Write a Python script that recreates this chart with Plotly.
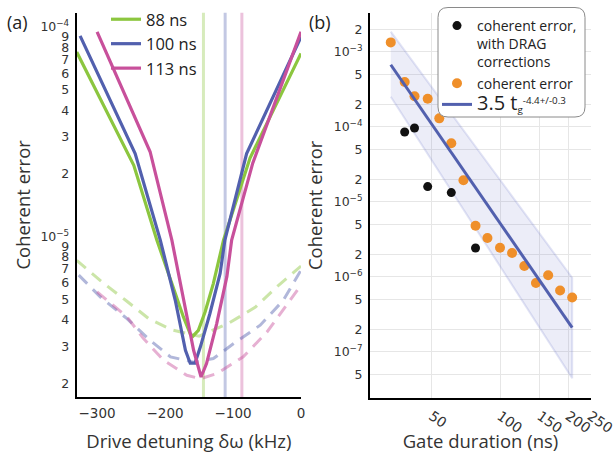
import plotly.graph_objects as go

W, H = 614, 453

# ---------------- Panel (a): coherent error vs drive detuning ----------------
gate_labels = ["88 ns", "100 ns", "113 ns"]

det_88 = [-330, -246, -212, -190, -173, -163, -159, -151, -141, -129, -114, -75, 0]
err_88 = [7.59e-5, 2.19e-5, 9.62e-6, 5.97e-6, 4.14e-6, 3.44e-6, 3.35e-6, 3.57e-6,
          4.38e-6, 5.97e-6, 9.62e-6, 2.37e-5, 7.48e-5]

det_100 = [-325, -244, -207, -185, -170, -163, -156, -148, -134, -119, -112, -80, 0]
err_100 = [9.06e-5, 2.49e-5, 9.62e-6, 4.97e-6, 2.87e-6, 2.49e-6, 2.49e-6, 2.98e-6,
           4.30e-6, 6.67e-6, 9.62e-6, 2.49e-5, 8.97e-5]

det_113 = [-300, -222, -190, -173, -158, -147, -139, -124, -109, -102, -71, 0]
err_113 = [9.48e-5, 2.54e-5, 9.62e-6, 5.15e-6, 2.87e-6, 2.14e-6, 2.48e-6, 3.85e-6,
           6.46e-6, 9.62e-6, 2.24e-5, 9.48e-5]

dash_det_88 = [-330, -293, -258, -224, -190, -150, -107, -67, -33, 0]
dash_err_88 = [7.7e-6, 6.08e-6, 4.97e-6, 4.06e-6, 3.59e-6, 3.35e-6, 3.85e-6, 4.61e-6,
               5.86e-6, 7.24e-6]

dash_det_100 = [-327, -295, -256, -222, -192, -158, -129, -99, -60, -26, 0]
dash_err_100 = [6.55e-6, 5.15e-6, 4.06e-6, 3.20e-6, 2.67e-6, 2.52e-6, 2.62e-6, 3.09e-6,
                3.78e-6, 4.97e-6, 6.92e-6]

dash_det_113 = [-300, -256, -232, -202, -168, -148, -124, -85, -50, 0]
dash_err_113 = [5.45e-6, 4.14e-6, 3.27e-6, 2.57e-6, 2.18e-6, 2.10e-6, 2.22e-6, 2.67e-6,
                3.51e-6, 5.86e-6]

vline_det = [-143.5, -111.6, -87.0]

POW = "10<sup>−{}</sup>"
ya_tickvals = [2e-6, 3e-6, 4e-6, 5e-6, 6e-6, 7e-6, 8e-6, 9e-6, 1e-5,
               2e-5, 3e-5, 4e-5, 5e-5, 6e-5, 7e-5, 8e-5, 9e-5, 1e-4]
ya_ticktext = ["2", "3", "4", "5", "6", "7", "8", "9", POW.format(5),
               "2", "3", "4", "5", "6", "7", "8", "9", POW.format(4)]

# ---------------- Panel (b): coherent error vs gate duration ----------------
gate_ns = [33, 38, 42, 48, 54, 61, 69, 78, 88, 100, 113, 128, 144, 163, 184, 208]
coh_err = [1.34e-3, 3.97e-4, 2.56e-4, 2.38e-4, 1.30e-4, 6.04e-5, 1.94e-5, 4.82e-6,
           3.30e-6, 2.45e-6, 2.08e-6, 1.40e-6, 8.3e-7, 1.05e-6, 6.6e-7, 5.3e-7]

drag_ns = [38, 42, 48, 61, 78]
drag_err = [8.55e-5, 9.66e-5, 1.60e-5, 1.33e-5, 2.43e-6]

fit_ns = [33, 208]
fit_err = [6.74e-4, 2.1e-7]
fit_hi = [1.86e-3, 9.75e-7]
fit_lo = [2.53e-4, 4.45e-8]

xb_ticks = [50, 100, 150, 200, 250]
yb_tickvals = [5e-8, 1e-7, 2e-7, 5e-7, 1e-6, 2e-6, 5e-6, 1e-5, 2e-5, 5e-5,
               1e-4, 2e-4, 5e-4, 1e-3, 2e-3]
yb_ticktext = ["5", POW.format(7), "2", "5", POW.format(6), "2", "5", POW.format(5), "2", "5",
               POW.format(4), "2", "5", POW.format(3), "2"]

# ---------------- styling ----------------
solid_cols = ["#8cc63f", "#5260ae", "#c8509b"]
dash_cols = ["rgba(140,198,63,0.45)", "rgba(82,96,174,0.45)", "rgba(200,80,155,0.45)"]
vline_cols = ["rgba(140,198,63,0.35)", "rgba(82,96,174,0.35)", "rgba(200,80,155,0.35)"]
orange = "#ef8f2a"
XTICKFONT = dict(family="DejaVu Sans, Verdana, sans-serif", size=13.5, color="#333")
YTICKFONT = dict(family="DejaVu Sans, Verdana, sans-serif", size=12.5, color="#333")
TITLEFONT = dict(family="Open Sans, sans-serif", size=18.5, color="#333")

fig = go.Figure()

dash_sets = [(dash_det_88, dash_err_88), (dash_det_100, dash_err_100), (dash_det_113, dash_err_113)]
for (dx, dy), c in zip(dash_sets, dash_cols):
    fig.add_trace(go.Scatter(x=dx, y=dy, mode="lines", xaxis="x", yaxis="y",
                             line=dict(color=c, width=3, dash="12px,8px"),
                             showlegend=False, hoverinfo="skip"))

solid_sets = [(det_88, err_88), (det_100, err_100), (det_113, err_113)]
for (sx, sy), c, name in zip(solid_sets, solid_cols, gate_labels):
    fig.add_trace(go.Scatter(x=sx, y=sy, mode="lines", xaxis="x", yaxis="y", name=name,
                             line=dict(color=c, width=3.2), legend="legend"))

for v, c in zip(vline_det, vline_cols):
    fig.add_shape(type="line", xref="x", yref="y domain", x0=v, x1=v, y0=0, y1=1,
                  line=dict(color=c, width=3), layer="below")

# panel b
band_x = fit_ns + fit_ns[::-1]
band_y = fit_hi + fit_lo[::-1]
fig.add_trace(go.Scatter(x=band_x, y=band_y, mode="lines", fill="toself", xaxis="x2", yaxis="y2",
                         fillcolor="rgba(100,110,200,0.12)",
                         line=dict(color="rgba(100,110,200,0.18)", width=2),
                         showlegend=False, hoverinfo="skip"))
fig.add_trace(go.Scatter(x=drag_ns, y=drag_err, mode="markers", xaxis="x2", yaxis="y2",
                         name="coherent error,<br>with DRAG<br>corrections",
                         marker=dict(color="#111", size=9), legend="legend2"))
fig.add_trace(go.Scatter(x=gate_ns, y=coh_err, mode="markers", xaxis="x2", yaxis="y2",
                         name="coherent error",
                         marker=dict(color=orange, size=10), legend="legend2"))
fig.add_trace(go.Scatter(x=fit_ns, y=fit_err, mode="lines", xaxis="x2", yaxis="y2",
                         name='<span style="font-size:20px">3.5 t</span><sub>g</sub><sup>-4.4+/-0.3</sup>',
                         line=dict(color="#5260ae", width=3), legend="legend2"))

def px2paper_x(p):
    return p / W

def px2paper_y(p):
    return 1 - p / H

# rounded legend box for panel b
bx0, bx1, by0, by1, r = 438, 585, 7.5, 117, 10
def pt(x, y):
    return f"{px2paper_x(x):.5f},{px2paper_y(y):.5f}"
path = (f"M{pt(bx0 + r, by0)} L{pt(bx1 - r, by0)} Q{pt(bx1, by0)} {pt(bx1, by0 + r)} "
        f"L{pt(bx1, by1 - r)} Q{pt(bx1, by1)} {pt(bx1 - r, by1)} "
        f"L{pt(bx0 + r, by1)} Q{pt(bx0, by1)} {pt(bx0, by1 - r)} "
        f"L{pt(bx0, by0 + r)} Q{pt(bx0, by0)} {pt(bx0 + r, by0)} Z")
fig.add_shape(type="path", xref="paper", yref="paper", path=path,
              fillcolor="white", line=dict(color="#8a8a8a", width=1), layer="above")

common_axis = dict(showline=True, linecolor="black", linewidth=2, zeroline=False,
                   ticks="", ticklabelstandoff=3, automargin=False)

fig.update_layout(
    width=W, height=H, margin=dict(l=0, r=0, t=0, b=0, autoexpand=False),
    paper_bgcolor="white", plot_bgcolor="white",
    xaxis=dict(domain=[76.7 / W, 301 / W], range=[-330, 0], dtick=100, showgrid=False,
               anchor="y", tickfont=XTICKFONT,
               title=dict(text="Drive detuning δω (kHz)", font=TITLEFONT, standoff=15),
               **common_axis),
    yaxis=dict(domain=[1 - 397 / H, 1 - 12.7 / H], type="log", range=[-5.765, -3.932],
               tickvals=ya_tickvals, ticktext=ya_ticktext, showgrid=False, anchor="x",
               tickfont=YTICKFONT,
               title=dict(text="Coherent error", font=TITLEFONT, standoff=5), **common_axis),
    xaxis2=dict(domain=[370 / W, 591 / W], type="log", range=[1.427, 2.401],
                tickvals=xb_ticks, ticktext=[str(t) for t in xb_ticks], tickangle=35,
                showgrid=True, gridcolor="#e6e6e6", gridwidth=1, anchor="y2",
                tickfont=dict(XTICKFONT, size=14), ticklabeloverflow="allow",
                title=dict(text="Gate duration (ns)", font=TITLEFONT, standoff=3),
                **common_axis),
    yaxis2=dict(domain=[1 - 397.7 / H, 1 - 13 / H], type="log", range=[-7.611, -2.481],
                tickvals=yb_tickvals, ticktext=yb_ticktext, showgrid=True, gridcolor="#e6e6e6",
                gridwidth=1, anchor="x2", tickfont=YTICKFONT,
                title=dict(text="Coherent error", font=TITLEFONT, standoff=6), **common_axis),
    legend=dict(x=106 / W, y=1 - 2 / H, xanchor="left", yanchor="top",
                bgcolor="rgba(0,0,0,0)", borderwidth=0,
                font=dict(family="Open Sans, sans-serif", size=16.5, color="#222"),
                tracegroupgap=0),
    legend2=dict(x=437 / W, y=1 - 10 / H, xanchor="left", yanchor="top",
                 bgcolor="rgba(0,0,0,0)", borderwidth=0, valign="top",
                 font=dict(family="Open Sans, sans-serif", size=14, color="#222"),
                 tracegroupgap=0),
    annotations=[
        dict(text="(a)", x=17.5 / W, y=1 - 22 / H, xref="paper", yref="paper",
             xanchor="center", yanchor="middle", showarrow=False,
             font=dict(family="Open Sans, sans-serif", size=18, color="#222")),
        dict(text="(b)", x=320 / W, y=1 - 22 / H, xref="paper", yref="paper",
             xanchor="center", yanchor="middle", showarrow=False,
             font=dict(family="Open Sans, sans-serif", size=18, color="#222")),
    ],
)

fig.write_html("out.html")
